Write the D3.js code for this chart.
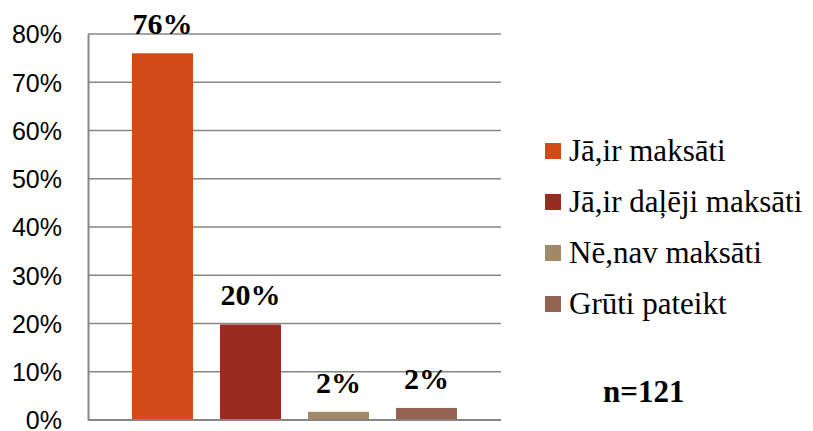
<!DOCTYPE html>
<html lang="lv">
<head>
<meta charset="UTF-8">
<title>Bar chart</title>
<script src="https://d3js.org/d3.v7.min.js"></script>
<style>
  body { margin: 0; background: #fff; }
  svg { display: block; }
  .serif { font-family: 'Liberation Serif', 'Times New Roman', serif; }
</style>
</head>
<body>
<script>
const width = 813;
const height = 431;

// data
const categories = ["Jā,ir maksāti", "Jā,ir daļēji maksāti", "Nē,nav maksāti", "Grūti pateikt"];
const values = [76, 19.8, 1.7, 2.5];
const valueLabels = ["76%", "20%", "2%", "2%"];
const colors = ["#D24A18", "#992C20", "#A08A68", "#956352"];
const yTicks = [0, 10, 20, 30, 40, 50, 60, 70, 80];
const note = "n=121";

const svg = d3.select("body").append("svg")
  .attr("width", width)
  .attr("height", height);

const x = d3.scaleBand()
  .domain(categories)
  .range([88, 501])
  .paddingInner(0.307)
  .paddingOuter(0.5);

const y = d3.scaleLinear()
  .domain([0, 80])
  .range([420, 34]);

// grid lines
svg.append("g")
  .selectAll("line")
  .data(yTicks)
  .join("line")
  .attr("x1", 88)
  .attr("x2", 501)
  .attr("y1", d => y(d))
  .attr("y2", d => y(d))
  .attr("stroke", "#868686")
  .attr("stroke-width", 1.5);

// y axis
const yAxis = svg.append("g")
  .attr("transform", "translate(88,0)")
  .call(d3.axisLeft(y).tickValues(yTicks).tickFormat(d => d + "%").tickSize(0).tickPadding(26));
yAxis.select(".domain").attr("stroke", "#868686").attr("stroke-width", 2);
yAxis.selectAll("text")
  .attr("fill", "#000")
  .attr("dy", "0.35em")
  .style("font-family", "'Liberation Sans', Arial, sans-serif")
  .style("font-size", "25px");

// bars
svg.append("g")
  .selectAll("rect")
  .data(categories)
  .join("rect")
  .attr("x", d => x(d))
  .attr("y", (d, i) => y(values[i]))
  .attr("width", x.bandwidth())
  .attr("height", (d, i) => y(0) - y(values[i]))
  .attr("fill", (d, i) => colors[i]);

// bottom axis line over bars
svg.append("line")
  .attr("x1", 88).attr("x2", 501)
  .attr("y1", y(0)).attr("y2", y(0))
  .attr("stroke", "#868686")
  .attr("stroke-width", 2);

// value labels
svg.append("g")
  .selectAll("text")
  .data(categories)
  .join("text")
  .attr("class", "serif")
  .attr("x", d => x(d) + x.bandwidth() / 2)
  .attr("y", (d, i) => y(values[i]) - 19)
  .attr("text-anchor", "middle")
  .style("font-weight", "bold")
  .style("font-size", "30px")
  .text((d, i) => valueLabels[i]);

// legend
const legend = svg.append("g")
  .selectAll("g")
  .data(categories)
  .join("g")
  .attr("transform", (d, i) => `translate(545,${151 + i * 51})`);

legend.append("rect")
  .attr("x", 0)
  .attr("y", -8)
  .attr("width", 16)
  .attr("height", 16)
  .attr("fill", (d, i) => colors[i]);

legend.append("text")
  .attr("class", "serif")
  .attr("x", 24)
  .attr("y", 10)
  .style("font-size", "31px")
  .text(d => d);

svg.append("text")
  .attr("class", "serif")
  .attr("x", 603)
  .attr("y", 402)
  .style("font-weight", "bold")
  .style("font-size", "31px")
  .text(note);
</script>
</body>
</html>
